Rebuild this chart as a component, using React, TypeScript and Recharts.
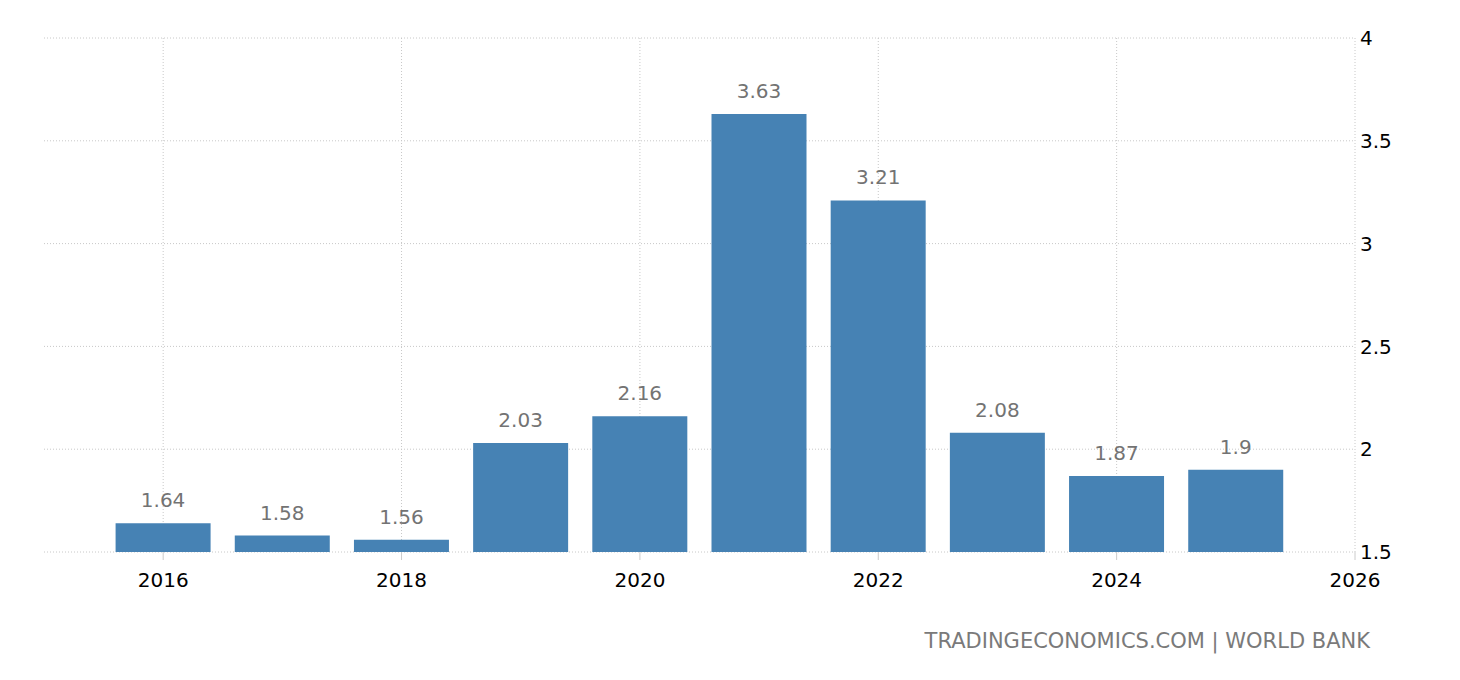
import { BarChart, Bar, XAxis, YAxis, CartesianGrid, LabelList } from "recharts";

const years = [2016, 2017, 2018, 2019, 2020, 2021, 2022, 2023, 2024, 2025];
const values = [1.64, 1.58, 1.56, 2.03, 2.16, 3.63, 3.21, 2.08, 1.87, 1.9];
const xTicks = [2016, 2018, 2020, 2022, 2024, 2026];
const yTicks = [1.5, 2, 2.5, 3, 3.5, 4];
const xDomain = [2015, 2026];
const source = "TRADINGECONOMICS.COM | WORLD BANK";

const data = years.map((year, i) => ({ year, value: values[i] }));

const font = "'DejaVu Sans', sans-serif";

// vertical grid lines only at the labelled years, none at the domain start
const verticalLines = ({ xAxis, offset }: any) => {
  const scale = xAxis?.scale;
  if (typeof scale === "function") return xTicks.map((t) => scale(t));
  const span = xDomain[1] - xDomain[0];
  return xTicks.map((t) => offset.left + ((t - xDomain[0]) / span) * offset.width);
};

export default function App() {
  return (
    <div style={{ position: "absolute", left: 0, top: 0, width: 1460, height: 680, background: "#fff", fontFamily: font }}>
      <BarChart
        width={1460}
        height={680}
        data={data}
        margin={{ top: 38, right: 45, bottom: 88, left: 44 }}
      >
        <CartesianGrid
          stroke="#c8c8c8"
          strokeDasharray="1 2"
          verticalCoordinatesGenerator={verticalLines}
        />
        <XAxis
          dataKey="year"
          type="number"
          domain={xDomain}
          ticks={xTicks}
          axisLine={false}
          tickLine={{ stroke: "#ccc" }}
          tickSize={8}
          tickMargin={13}
          height={40}
          tick={{ fill: "#000", fontSize: 20, fontFamily: font }}
        />
        <YAxis
          orientation="right"
          domain={[1.5, 4]}
          ticks={yTicks}
          axisLine={false}
          tickLine={false}
          tickSize={0}
          tickMargin={5}
          width={60}
          tick={{ fill: "#000", fontSize: 20, fontFamily: font, textAnchor: "start" }}
        />
        <Bar dataKey="value" fill="#4682b4" barSize={95} isAnimationActive={false}>
          <LabelList
            dataKey="value"
            position="top"
            offset={16}
            fill="#737373"
            fontSize={20}
            fontFamily={font}
          />
        </Bar>
      </BarChart>
      <div
        style={{
          position: "absolute",
          right: 90,
          top: 629,
          fontSize: 21,
          color: "#7a7a7a",
          whiteSpace: "nowrap",
        }}
      >
        {source}
      </div>
    </div>
  );
}
